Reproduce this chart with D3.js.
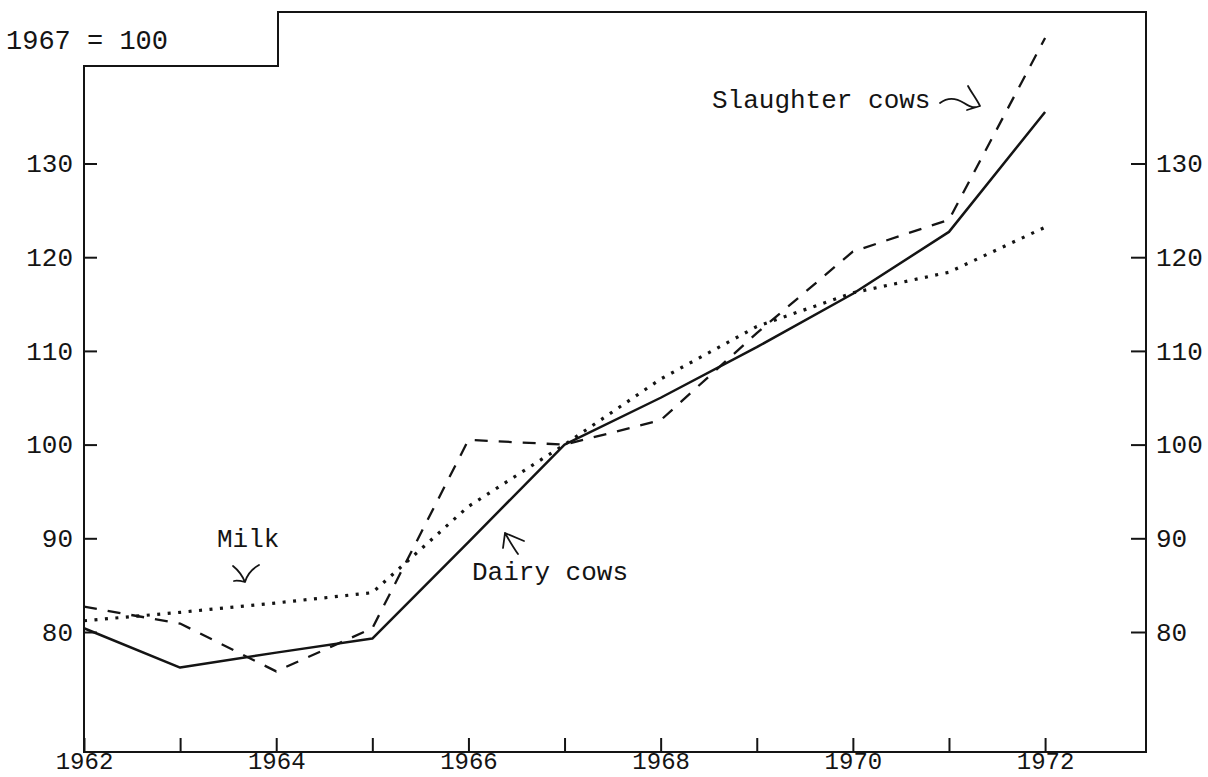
<!DOCTYPE html>
<html>
<head>
<meta charset="utf-8">
<script src="https://cdn.jsdelivr.net/npm/d3@7"></script>
<style>
  body { margin: 0; background: #fff; }
  svg text { font-family: "Liberation Mono", "Courier New", monospace; fill: #141414; }
</style>
</head>
<body>
<div id="chart"></div>
<script>
// index values, 1967 = 100
var years = [1962, 1963, 1964, 1965, 1966, 1967, 1968, 1969, 1970, 1971, 1972];
var dairyCows = [80.4, 76.2, 77.8, 79.3, 89.6, 100, 105.0, 110.4, 116.1, 122.7, 135.5];
var slaughterCows = [82.7, 80.9, 75.8, 80.4, 100.5, 100, 102.6, 111.9, 120.6, 124.0, 143.4];
var milk = [81.2, 82.1, 83.1, 84.2, 93.4, 100, 107.0, 112.6, 116.2, 118.4, 123.2];

var yTicks = [80, 90, 100, 110, 120, 130];
var xLabelYears = [1962, 1964, 1966, 1968, 1970, 1972];

var svgWidth = 1208;
var svgHeight = 777;

// plot frame (with the notch top left for the base-year label)
var frame = { left: 84, right: 1146, top: 12, bottom: 752, stepX: 278, stepY: 66 };

var svg = d3.select("#chart")
  .append("svg")
  .attr("width", svgWidth)
  .attr("height", svgHeight);

var x = d3.scaleLinear()
  .domain([1962, 1973.05])
  .range([frame.left, frame.right]);

var y = d3.scaleLinear()
  .domain([80, 130])
  .range([632, 163.5]);

var ink = "#141414";

// frame
svg.append("path")
  .attr("d", `M${frame.left},${frame.bottom} L${frame.left},${frame.stepY} L${frame.stepX},${frame.stepY}
    L${frame.stepX},${frame.top} L${frame.right},${frame.top} L${frame.right},${frame.bottom} Z`)
  .attr("fill", "none")
  .attr("stroke", ink)
  .attr("stroke-width", 2);

function styleAxis(g) {
  g.select(".domain").remove();
  g.selectAll("line").attr("stroke", ink).attr("stroke-width", 2);
  g.selectAll("text")
    .attr("font-family", "Liberation Mono, Courier New, monospace")
    .attr("font-size", 26)
    .attr("fill", ink);
}

// left axis, ticks pointing inward
svg.append("g")
  .attr("transform", `translate(${frame.left},0)`)
  .call(d3.axisLeft(y).tickValues(yTicks).tickSize(-13).tickPadding(11))
  .call(styleAxis);

// right axis
svg.append("g")
  .attr("transform", `translate(${frame.right},0)`)
  .call(d3.axisRight(y).tickValues(yTicks).tickSize(-15).tickPadding(10))
  .call(styleAxis);

// bottom axis, a tick every year, a label every other year
var xAxisG = svg.append("g")
  .attr("transform", `translate(0,${frame.bottom})`)
  .call(d3.axisBottom(x)
    .tickValues(years)
    .tickSize(-14)
    .tickPadding(0)
    .tickFormat(d => xLabelYears.indexOf(d) >= 0 ? d : ""))
  .call(styleAxis);

xAxisG.selectAll("text").attr("font-size", 24);

var line = d3.line()
  .x((d, i) => x(years[i]))
  .y(d => y(d));

// dairy cows - solid
svg.append("path")
  .datum(dairyCows)
  .attr("d", line)
  .attr("fill", "none")
  .attr("stroke", ink)
  .attr("stroke-width", 2.5)
  .attr("stroke-linejoin", "round");

// slaughter cows - dashed
svg.append("path")
  .datum(slaughterCows)
  .attr("d", line)
  .attr("fill", "none")
  .attr("stroke", ink)
  .attr("stroke-width", 2.3)
  .attr("stroke-dasharray", "13,11");

// milk - dotted
svg.append("path")
  .datum(milk)
  .attr("d", line)
  .attr("fill", "none")
  .attr("stroke", ink)
  .attr("stroke-width", 3.2)
  .attr("stroke-dasharray", "3,7.5");

// labels
svg.append("text")
  .attr("x", 6)
  .attr("y", 49)
  .attr("font-size", 27)
  .text("1967 = 100");

svg.append("text")
  .attr("x", 712)
  .attr("y", 108)
  .attr("font-size", 26)
  .text("Slaughter cows");

svg.append("text")
  .attr("x", 217)
  .attr("y", 547)
  .attr("font-size", 26)
  .text("Milk");

svg.append("text")
  .attr("x", 472)
  .attr("y", 580)
  .attr("font-size", 26)
  .text("Dairy cows");

// hand-drawn pointer arrows
var arrows = [
  // slaughter cows
  "M940,103 C948,97 956,98 964,103 S974,108 980,106 M980,106 C976,98 971,92 968,86 M980,106 L967,110",
  // milk
  "M259,565 C252,569 247,575 245,582 M245,582 C242,575 238,570 233,566 M245,582 C241,581 237,580 234,581",
  // dairy cows
  "M505,533 C509,540 513,547 518,554 M505,533 L503,548 M505,533 L524,541"
];

svg.selectAll("path.arrow")
  .data(arrows)
  .enter()
  .append("path")
  .attr("class", "arrow")
  .attr("d", d => d)
  .attr("fill", "none")
  .attr("stroke", ink)
  .attr("stroke-width", 1.8)
  .attr("stroke-linecap", "round");
</script>
</body>
</html>
